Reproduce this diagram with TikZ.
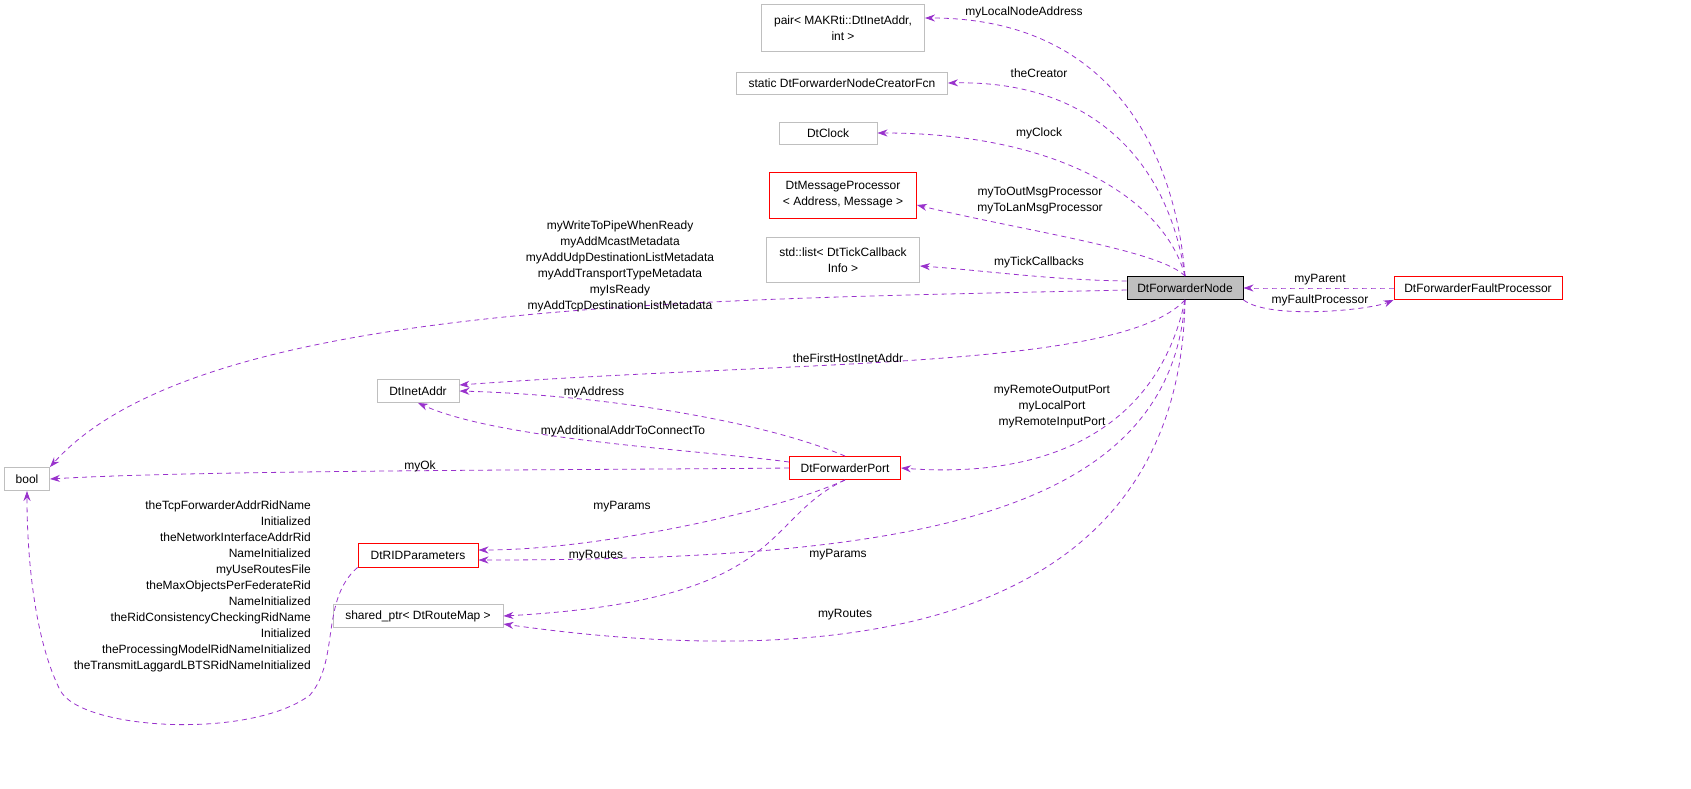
\documentclass[tikz,border=0pt]{standalone}
\usepackage{fontspec}
\setmainfont{Liberation Sans}
\usetikzlibrary{arrows.meta}
\definecolor{edge}{RGB}{153,50,204}
\definecolor{gbox}{RGB}{191,191,191}
\begin{document}
\begin{tikzpicture}[x=1pt,y=-1pt,
  box/.style={draw=gbox,line width=0.9pt,inner sep=2pt,align=center,font=\fontsize{12}{16}\selectfont},
  rbox/.style={box,draw=red},
  e/.style={draw=edge,dashed,dash pattern=on 5pt off 4pt,line width=0.8pt,-{Stealth[length=10pt,width=7pt]}},
  lb/.style={font=\fontsize{12}{16}\selectfont,align=center,inner sep=0pt}]
\useasboundingbox (0,0) rectangle (1691,788);
\node[box,minimum width=163,minimum height=47] (pair) at (843,28) {pair< MAKRti::DtInetAddr,\\ int >};
\node[box,minimum width=211,minimum height=22] (cre) at (842,83) {static DtForwarderNodeCreatorFcn};
\node[box,minimum width=98,minimum height=22] (clk) at (828,133) {DtClock};
\node[rbox,minimum width=147,minimum height=46] (msg) at (843,195) {DtMessageProcessor\\< Address, Message >};
\node[box,minimum width=153,minimum height=45] (lst) at (843,260) {std::list< DtTickCallback\\ Info >};
\node[box,draw=black,fill=gbox,minimum width=116,minimum height=23] (fn) at (1185,288) {DtForwarderNode};
\node[rbox,minimum width=168,minimum height=23] (ffp) at (1478,288) {DtForwarderFaultProcessor};
\node[box,minimum width=45,minimum height=23] (bool) at (27,479) {bool};
\node[box,minimum width=82,minimum height=23] (ina) at (418,391) {DtInetAddr};
\node[rbox,minimum width=111,minimum height=23] (port) at (845,468) {DtForwarderPort};
\node[rbox,minimum width=120,minimum height=24] (rid) at (418,555) {DtRIDParameters};
\node[box,minimum width=170,minimum height=23] (sp) at (418,616) {shared\_ptr< DtRouteMap >};

\draw[e] (fn.north) .. controls (1175,150) and (1110,18) .. (pair.east |- 0,18);
\draw[e] (fn.north) .. controls (1170,170) and (1100,80) .. (cre.east);
\draw[e] (fn.north) .. controls (1165,200) and (1060,133) .. (clk.east);
\draw[e] (fn.north) .. controls (1160,250) and (1020,230) .. (msg.east |- 0,205);
\draw[e] (fn.west |- 0,281) .. controls (1050,280) and (980,270) .. (lst.east |- 0,266);
\draw[e] (fn.west |- 0,290) .. controls (700,300) and (200,300) .. (bool.north east);
\draw[e] (fn.south) .. controls (1120,370) and (800,360) .. (ina.east |- 0,385);
\draw[e] (fn.south) .. controls (1160,420) and (1060,480) .. (port.east);
\draw[e] (fn.south) .. controls (1170,520) and (900,560) .. (rid.east |- 0,560);
\draw[e] (fn.south) .. controls (1180,600) and (900,680) .. (sp.east |- 0,624);
\draw[e] (ffp.west) .. controls (1350,288) and (1300,288) .. (fn.east);
\draw[e] (fn.south east) .. controls (1270,320) and (1370,310) .. (ffp.south west);
\draw[e] (port.north) .. controls (760,420) and (600,395) .. (ina.east);
\draw[e] (port.west |- 0,462) .. controls (700,450) and (500,440) .. (ina.south);
\draw[e] (port.west) .. controls (600,470) and (200,470) .. (bool.east);
\draw[e] (port.south) .. controls (780,510) and (600,550) .. (rid.east |- 0,550);
\draw[e] (port.south) .. controls (760,520) and (790,600) .. (sp.east);
\draw[e] (rid.south west) .. controls (320,600) and (340,660) .. (310,695) .. controls (250,740) and (80,730) .. (60,690) .. controls (35,640) and (27,560) .. (bool.south);

\node[lb] at (1024,12) {myLocalNodeAddress};
\node[lb] at (1039,73) {theCreator};
\node[lb] at (1039,133) {myClock};
\node[lb] at (1040,201) {myToOutMsgProcessor\\myToLanMsgProcessor};
\node[lb] at (1039,262) {myTickCallbacks};
\node[lb] at (620,266) {myWriteToPipeWhenReady\\myAddMcastMetadata\\myAddUdpDestinationListMetadata\\myAddTransportTypeMetadata\\myIsReady\\myAddTcpDestinationListMetadata};
\node[lb] at (848,358) {theFirstHostInetAddr};
\node[lb] at (594,392) {myAddress};
\node[lb] at (623,431) {myAdditionalAddrToConnectTo};
\node[lb] at (420,466) {myOk};
\node[lb] at (1052,407) {myRemoteOutputPort\\myLocalPort\\myRemoteInputPort};
\node[lb] at (622,507) {myParams};
\node[lb] at (838,555) {myParams};
\node[lb] at (596,556) {myRoutes};
\node[lb] at (845,615) {myRoutes};
\node[lb] at (1320,280) {myParent};
\node[lb] at (1320,300) {myFaultProcessor};
\node[lb,align=right,anchor=east] at (311,586) {theTcpForwarderAddrRidName\\Initialized\\theNetworkInterfaceAddrRid\\NameInitialized\\myUseRoutesFile\\theMaxObjectsPerFederateRid\\NameInitialized\\theRidConsistencyCheckingRidName\\Initialized\\theProcessingModelRidNameInitialized\\theTransmitLaggardLBTSRidNameInitialized};
\end{tikzpicture}
\end{document}
